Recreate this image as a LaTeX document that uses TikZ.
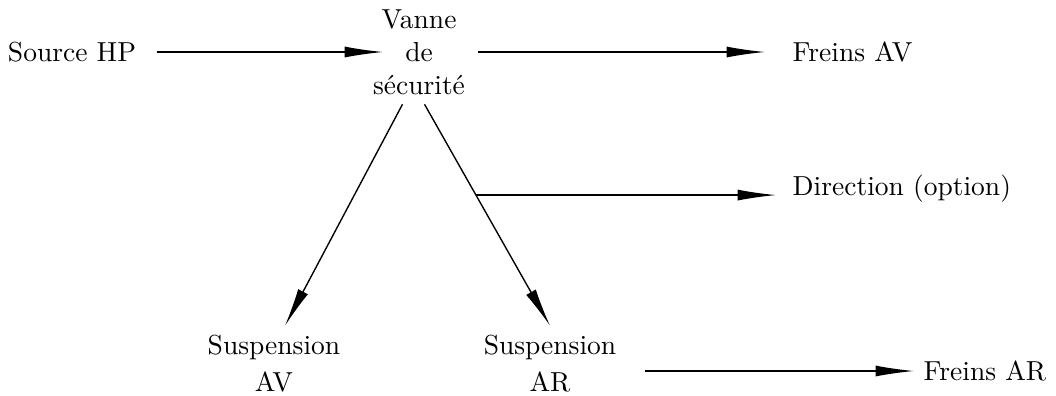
\documentclass[tikz,border=0pt]{standalone}
\usepackage{tikz}
\usetikzlibrary{arrows.meta}

\begin{document}
\begin{tikzpicture}[x=0.3636pt, y=-0.3636pt,
  flow/.style={-{Latex[length=14pt,width=4pt]}, line width=0.5pt},
  organ/.style={align=center}]

% --- Hydraulic circuit: high pressure distribution ---

\def\ytop{52}   % level of the top row
\def\ybot{364}  % level of the suspension units

% Frame of the picture
\useasboundingbox (0,0) rectangle (1056,395);

% Source and safety valve
\node (src) at (72,\ytop) {Source HP};
\node[organ] (vanne) at (419,\ytop) {Vanne\\de\\sécurité};

% Consumers
\node[anchor=west] (fav) at (783,\ytop) {Freins AV};
\node[anchor=west] (dir) at (783,189) {Direction (option)};
\node[organ] (suspAV) at (274,\ybot) {Suspension\\[1.5pt]AV};
\node[organ] (suspAR) at (550,\ybot) {Suspension\\[1.5pt]AR};
\node[anchor=west] (far) at (914,371) {Freins AR};

% Top row
\draw[flow, shorten <=4pt, shorten >=13pt] (src) -- (vanne.center);
\draw[flow, shorten <=21.5pt, shorten >=6.5pt] (vanne.center) -- (fav);

% Branches towards the suspensions
\draw[flow] ([xshift=-6pt]vanne.south) -- ([xshift=4pt]suspAV.north);
\draw[flow] ([xshift=2pt]vanne.south) -- coordinate[pos=0.41] (br) (suspAR.north);

% Steering tap and rear brakes
\draw[flow, shorten >=2.5pt] (br) -- (br -| dir.west);
\draw[flow, shorten <=7pt] (suspAR.east |- far.west) -- (far.west);

\end{tikzpicture}
\end{document}
